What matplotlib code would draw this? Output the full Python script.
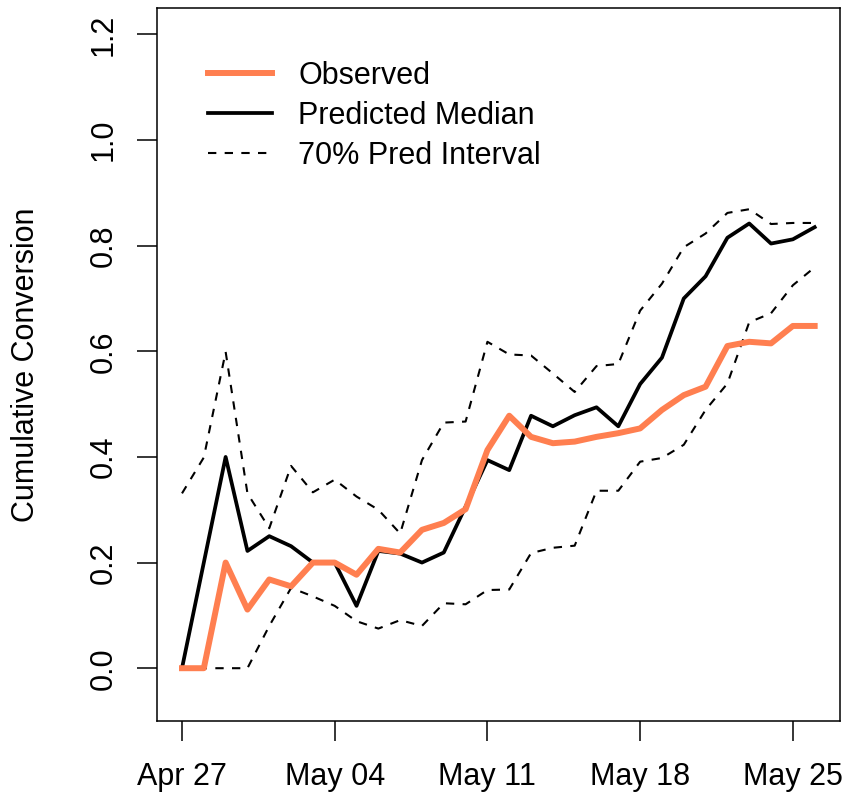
import numpy as np
import matplotlib
matplotlib.use('Agg')
import matplotlib.pyplot as plt
import matplotlib.dates as mdates

plt.rcParams['font.family'] = ['Liberation Sans', 'DejaVu Sans']

# dias (30 pontos, Apr 27 -> May 26)
dates = np.arange(np.datetime64('2020-04-27'), np.datetime64('2020-05-27'))

observed = [0.0, 0.0, 0.2, 0.111, 0.168, 0.155, 0.2, 0.2, 0.177, 0.226,
            0.219, 0.262, 0.275, 0.301, 0.413, 0.478, 0.438, 0.426, 0.429, 0.438,
            0.445, 0.454, 0.489, 0.517, 0.533, 0.610, 0.618, 0.615, 0.648, 0.648]
median = [0.0, 0.2, 0.4, 0.222, 0.25, 0.231, 0.2, 0.2, 0.118, 0.222,
          0.217, 0.2, 0.219, 0.306, 0.394, 0.375, 0.478, 0.458, 0.479, 0.494,
          0.458, 0.538, 0.588, 0.70, 0.742, 0.815, 0.842, 0.804, 0.812, 0.835]
upper = [0.331, 0.399, 0.599, 0.331, 0.265, 0.383, 0.333, 0.357, 0.325, 0.30,
         0.255, 0.394, 0.465, 0.467, 0.618, 0.594, 0.592, 0.558, 0.523, 0.572,
         0.576, 0.677, 0.728, 0.797, 0.823, 0.862, 0.869, 0.841, 0.843, 0.843]
lower = [0.0, 0.0, 0.0, 0.0, 0.08, 0.152, 0.136, 0.118, 0.089, 0.075,
         0.091, 0.08, 0.123, 0.121, 0.148, 0.149, 0.218, 0.228, 0.232, 0.336,
         0.336, 0.391, 0.398, 0.423, 0.489, 0.539, 0.655, 0.672, 0.725, 0.759]

tick_dates = np.array(['2020-04-27', '2020-05-04', '2020-05-11', '2020-05-18', '2020-05-25'],
                      dtype='datetime64[D]')
y_ticks = [0.0, 0.2, 0.4, 0.6, 0.8, 1.0, 1.2]

fs = 22
fig = plt.figure(figsize=(8.47, 7.99), dpi=100)
ax = fig.add_axes([0.185, 0.0976, 0.8067, 0.8924])

dash = (0, (4, 4))
ax.plot(dates, upper, color='black', lw=1.5, linestyle=dash, label='70% Pred Interval')
ax.plot(dates, lower, color='black', lw=1.5, linestyle=dash)
ax.plot(dates, median, color='black', lw=2.7, label='Predicted Median')
ax.plot(dates, observed, color='#FF7F50', lw=4.3, label='Observed')

x0 = mdates.date2num(dates[0])
x1 = mdates.date2num(dates[-1])
pad = (x1 - x0) * 0.04
ax.set_xlim(x0 - pad, x1 + pad)
ax.set_ylim(-0.1, 1.25)

ax.set_xticks(tick_dates)
ax.xaxis.set_major_formatter(mdates.DateFormatter('%b %d'))
ax.set_yticks(y_ticks)
ax.set_yticklabels(['%.1f' % v for v in y_ticks], rotation=90, va='center')

ax.tick_params(axis='both', length=14.4, width=1.1, labelsize=fs)
ax.tick_params(axis='x', pad=15)
ax.tick_params(axis='y', pad=13)
for s in ax.spines.values():
    s.set_linewidth(1.1)

ax.set_ylabel('Cumulative Conversion', fontsize=fs)
ax.yaxis.set_label_coords(-0.169, 0.5)

handles, labels = ax.get_legend_handles_labels()
order = [2, 1, 0]
ax.legend([handles[i] for i in order], [labels[i] for i in order],
          loc='upper left', bbox_to_anchor=(0.075, 0.926), frameon=False,
          fontsize=fs, handlelength=2.1, handletextpad=0.85, labelspacing=0.33,
          borderpad=0, borderaxespad=0)

fig.savefig('out.png', dpi=100)
